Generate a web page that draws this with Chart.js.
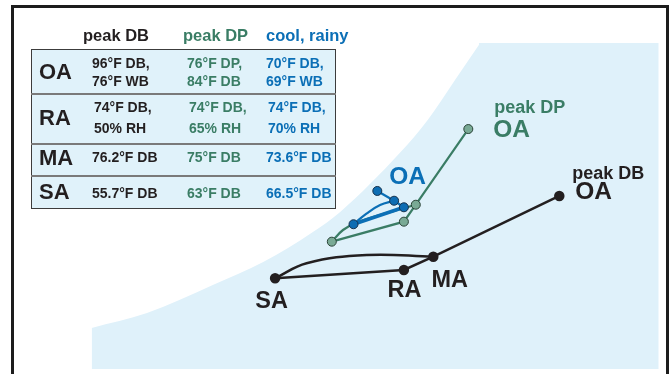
<!DOCTYPE html>
<html>
<head>
<meta charset="utf-8">
<script src="https://cdn.jsdelivr.net/npm/chart.js@4"></script>
<style>
  html, body { margin: 0; padding: 0; background: #fff; }
  #wrap { position: relative; width: 671px; height: 374px; overflow: hidden; font-family: "Liberation Sans", Arial, sans-serif; font-weight: bold; }
  #psych { position: absolute; left: 0; top: 0; }
  #frame { position: absolute; left: 11px; top: 5px; width: 658px; height: 420px; border: 3px solid #1c1c1c; box-sizing: border-box; }
  #table { position: absolute; left: 31px; top: 49px; width: 305px; height: 160px; background: #e0f2fa; border: 1.5px solid #3c3c3c; box-sizing: border-box; }
  .sep { position: absolute; left: 31px; width: 305px; height: 1.5px; background: #7a7a7a; }
  .txt { position: absolute; white-space: nowrap; }
</style>
</head>
<body>
<div id="wrap">
  <canvas id="psych" width="671" height="374"></canvas>
  <div id="table"></div>
  <div id="frame"></div>
</div>
<script>
// x = dry bulb (°F), y = humidity ratio (gr/lb), both
const scenarios = ['peak DB', 'peak DP', 'cool, rainy'];
const pointNames = ['OA', 'MA', 'RA', 'SA'];

const peakDbT = [96.9, 78.9, 74.7, 56.3];
const peakDbW = [111.3, 73.3, 65.0, 59.8];
const peakDpT = [83.9, 76.4, 74.7, 64.4];
const peakDpW = [153.1, 105.8, 95.2, 82.7];
const coolT = [70.9, 73.3, 74.7, 67.5];
const coolW = [114.4, 108.3, 104.2, 93.6];

// cooling coil paths SA -> MA
const peakDbCoilT = [56.3, 60.8, 69.4, 78.9];
const peakDbCoilW = [59.8, 69.2, 74.4, 73.3];
const peakDpCoilT = [64.4, 66.0, 68.1, 76.4];
const peakDpCoilW = [82.7, 90.0, 95.0, 105.8];
const coolCoilT = [67.5, 69.4, 71.3, 73.3];
const coolCoilW = [93.6, 100.4, 105.6, 108.3];

// shaded region: saturation curve, then the flat top of the plot area
const satT = [30.1, 38.0, 47.4, 54.6, 61.7, 65.6, 74.1, 78.1, 82.0, 85.6];
const satW = [28.8, 38.1, 55.6, 70.0, 88.8, 101.3, 138.1, 158.8, 183.8, 206.9];
const topEdgeT = [85.4, 111.1];
const topEdgeW = [206.9, 206.9];
const regionBottomW = 3.1;

// table text
const tableRows = ['OA', 'RA', 'MA', 'SA'];
const peakDbCells = [['96°F DB,', '76°F WB'], ['74°F DB,', '50% RH'], ['76.2°F DB'], ['55.7°F DB']];
const peakDpCells = [['76°F DP,', '84°F DB'], ['74°F DB,', '65% RH'], ['75°F DB'], ['63°F DB']];
const coolCells = [['70°F DB,', '69°F WB'], ['74°F DB,', '70% RH'], ['73.6°F DB'], ['66.5°F DB']];

const black = '#231f20';
const green = '#3a7d65';
const blue = '#0b6fb6';
const shade = '#dff1fa';
const colColors = [black, green, blue];

function pts(T, W) {
    return T.map((t, i) => ({ x: t, y: W[i] }));
}

// ---- table (html) ----
const wrap = document.getElementById('wrap');
function addText(str, left, cy, size, color) {
    const d = document.createElement('div');
    d.className = 'txt';
    d.textContent = str;
    d.style.left = left + 'px';
    d.style.top = (cy - size / 2) + 'px';
    d.style.fontSize = size + 'px';
    d.style.lineHeight = size + 'px';
    d.style.color = color;
    wrap.insertBefore(d, document.getElementById('frame'));
}

const headerLefts = [83, 183, 266];
scenarios.forEach((s, i) => addText(s, headerLefts[i], 35, 16.5, colColors[i]));

[93, 143, 175].forEach(y => {
    const d = document.createElement('div');
    d.className = 'sep';
    d.style.top = y + 'px';
    wrap.insertBefore(d, document.getElementById('frame'));
});

const rowCenters = [72, 118, 158, 192];
const lineCenters = [[63, 81], [107, 128], [157], [193]];
const rowIndent = [0, 2, 0, 0];
const colLefts = [92, 187, 266];
const allCells = [peakDbCells, peakDpCells, coolCells];
tableRows.forEach((r, ri) => {
    addText(r, 39, rowCenters[ri], 22, black);
    allCells.forEach((cells, ci) => {
        cells[ri].forEach((line, li) => {
            addText(line, colLefts[ci] + rowIndent[ri], lineCenters[ri][li], 14, colColors[ci]);
        });
    });
});

// ---- labels on the chart ----
const labelPlugin = {
    id: 'labels',
    afterDatasetsDraw(chart) {
        const ctx = chart.ctx;
        const xs = chart.scales.x, ys = chart.scales.y;
        const px = (T, W, i) => [xs.getPixelForValue(T[i]), ys.getPixelForValue(W[i])];
        ctx.save();
        const font = s => 'bold ' + s + 'px "Liberation Sans", Arial, sans-serif';

        // peak DB: OA, MA, RA, SA
        let p = px(peakDbT, peakDbW, 0);
        ctx.fillStyle = black;
        ctx.textAlign = 'left';
        ctx.font = font(18);
        ctx.fillText(scenarios[0], p[0] + 13, p[1] - 17);
        ctx.font = font(24.5);
        ctx.fillText(pointNames[0], p[0] + 16, p[1] + 3);

        ctx.font = font(23.5);
        ctx.textAlign = 'center';
        p = px(peakDbT, peakDbW, 1);
        ctx.fillText(pointNames[1], p[0] + 16.5, p[1] + 30.5);
        p = px(peakDbT, peakDbW, 2);
        ctx.fillText(pointNames[2], p[0] + 0.5, p[1] + 27);
        p = px(peakDbT, peakDbW, 3);
        ctx.fillText(pointNames[3], p[0] - 3.5, p[1] + 30);

        // peak DP OA
        p = px(peakDpT, peakDpW, 0);
        ctx.fillStyle = green;
        ctx.textAlign = 'left';
        ctx.font = font(18);
        ctx.fillText(scenarios[1], p[0] + 26, p[1] - 16);
        ctx.font = font(24.5);
        ctx.fillText(pointNames[0], p[0] + 25, p[1] + 8);

        // cool, rainy OA
        p = px(coolT, coolW, 0);
        ctx.fillStyle = blue;
        ctx.font = font(24.5);
        ctx.fillText(pointNames[0], p[0] + 12, p[1] - 7);
        ctx.restore();
    }
};

new Chart(document.getElementById('psych'), {
    type: 'scatter',
    data: {
        datasets: [
            {
                data: pts(satT, satW), showLine: true, borderWidth: 0, pointRadius: 0,
                cubicInterpolationMode: 'monotone',
                backgroundColor: shade, fill: { value: regionBottomW }, order: 11
            },
            {
                data: pts(topEdgeT, topEdgeW), showLine: true, borderWidth: 0, pointRadius: 0,
                backgroundColor: shade, fill: { value: regionBottomW }, order: 10
            },
            {
                data: pts(peakDbCoilT, peakDbCoilW), showLine: true, borderColor: black, borderWidth: 2.5,
                tension: 0.4, pointRadius: 0, order: 9
            },
            {
                data: pts(peakDbT, peakDbW), showLine: true, borderColor: black, borderWidth: 2.5,
                pointRadius: 4, pointBackgroundColor: black, pointBorderColor: black, order: 8
            },
            {
                data: pts(peakDpCoilT, peakDpCoilW), showLine: true, borderColor: green, borderWidth: 2.2,
                tension: 0.4, pointRadius: 0, order: 7
            },
            {
                data: pts(peakDpT, peakDpW), showLine: true, borderColor: green, borderWidth: 2.2,
                pointRadius: 4.5, pointBackgroundColor: '#79aa95', pointBorderColor: '#2b4438', pointBorderWidth: 1, order: 6
            },
            {
                data: pts(coolCoilT, coolCoilW), showLine: true, borderColor: blue, borderWidth: 2.2,
                tension: 0.4, pointRadius: 0, order: 5
            },
            {
                data: pts(coolT, coolW), showLine: true, borderColor: blue, borderWidth: 2.2,
                segment: { borderWidth: c => c.p1DataIndex === 3 ? 3.5 : 2.2 },
                pointRadius: 4.5, pointBackgroundColor: '#0d6db3', pointBorderColor: '#17324d', pointBorderWidth: 1, order: 4
            }
        ]
    },
    options: {
        responsive: false,
        animation: false,
        devicePixelRatio: 1,
        layout: { padding: 0, autoPadding: false },
        plugins: { legend: { display: false }, tooltip: { enabled: false } },
        scales: {
            x: { type: 'linear', display: false, min: 17, max: 17 + 671 / 7 },
            y: { type: 'linear', display: false, min: 0, max: 374 / 1.6 }
        }
    },
    plugins: [labelPlugin]
});
</script>
</body>
</html>
